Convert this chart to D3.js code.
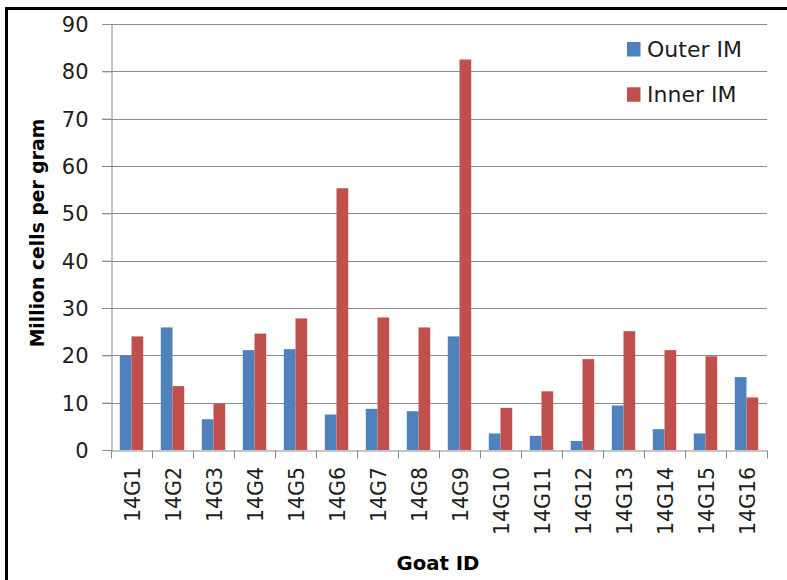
<!DOCTYPE html>
<html>
<head>
<meta charset="utf-8">
<script src="https://cdn.jsdelivr.net/npm/d3@7"></script>
<style>
  html, body { margin: 0; padding: 0; background: #fff; }
  svg { display: block; }
</style>
</head>
<body>
<svg id="chart" width="787" height="580"></svg>
<script>
const categories = ["14G1","14G2","14G3","14G4","14G5","14G6","14G7","14G8","14G9","14G10","14G11","14G12","14G13","14G14","14G15","14G16"];
const seriesNames = ["Outer IM","Inner IM"];
const outerIM = [20.0, 25.9, 6.5, 21.1, 21.3, 7.5, 8.7, 8.2, 24.0, 3.5, 3.0, 1.9, 9.4, 4.4, 3.5, 15.4];
const innerIM = [24.0, 13.5, 9.8, 24.6, 27.8, 55.3, 28.0, 25.9, 82.5, 8.9, 12.4, 19.2, 25.1, 21.1, 19.8, 11.1];
const yTicks = [0,10,20,30,40,50,60,70,80,90];
const colors = ["#4F81BD", "#C0504D"];

(function () {
const svg = d3.select("#chart");
const pLeft = 111, pRight = 767, pTop = 24, pBottom = 450;
const font = "'DejaVu Sans', sans-serif";
const textColor = "#1e1e1e";
const gridColor = "#8c8c8c";

// frame
svg.append("rect").attr("x", 6.5).attr("y", 8.5).attr("width", 820).attr("height", 620)
  .attr("fill", "none").attr("stroke", "#000").attr("stroke-width", 3);

const y = d3.scaleLinear().domain([0, 90]).range([pBottom, pTop]);
const x0 = d3.scaleBand().domain(categories).range([pLeft, pRight]).padding(0);
const groupW = x0.bandwidth() * 2 / 3.5;
const x1 = d3.scaleBand().domain(seriesNames).range([0, groupW]).padding(0);
const offset = (x0.bandwidth() - groupW) / 2;

// gridlines
svg.append("g").selectAll("line").data(yTicks.filter(d => d > 0)).join("line")
  .attr("x1", pLeft - 9).attr("x2", pRight)
  .attr("y1", d => Math.round(y(d)) + 0.5).attr("y2", d => Math.round(y(d)) + 0.5)
  .attr("stroke", gridColor).attr("stroke-width", 1);

// y axis
const yAxis = svg.append("g").attr("transform", `translate(${pLeft + 0.5},0)`)
  .call(d3.axisLeft(y).tickValues(yTicks).tickSize(9).tickPadding(14).tickFormat(d3.format("d")));
yAxis.select(".domain").attr("stroke", gridColor);
yAxis.selectAll(".tick line").attr("stroke", gridColor);
yAxis.selectAll(".tick text").attr("font-family", font).attr("font-size", 21).attr("fill", textColor).attr("dy", "0.36em");

// bars
const data = categories.map((c, i) => ({ cat: c, vals: [outerIM[i], innerIM[i]] }));
const groups = svg.append("g").selectAll("g").data(data).join("g")
  .attr("transform", d => `translate(${x0(d.cat) + offset},0)`);
groups.selectAll("rect").data(d => d.vals.map((v, j) => ({ s: seriesNames[j], v, j }))).join("rect")
  .attr("x", d => x1(d.s))
  .attr("y", d => y(d.v))
  .attr("width", x1.bandwidth())
  .attr("height", d => y(0) - y(d.v))
  .attr("fill", d => colors[d.j]);

// x axis
const xAxis = svg.append("g").attr("transform", `translate(0,${pBottom + 0.5})`)
  .call(d3.axisBottom(x0).tickSize(0).tickFormat(""));
xAxis.select(".domain").attr("stroke", gridColor);
xAxis.selectAll(".tick").remove();
const bounds = categories.map(c => x0(c)).concat([pRight]);
xAxis.selectAll("line.cat").data(bounds).join("line").attr("class", "cat")
  .attr("x1", d => Math.round(d) + 0.5).attr("x2", d => Math.round(d) + 0.5)
  .attr("y1", 0).attr("y2", 8).attr("stroke", gridColor);
svg.append("g").selectAll("text").data(categories).join("text")
  .attr("transform", d => `translate(${x0(d) + x0.bandwidth() / 2},467) rotate(-90)`)
  .attr("text-anchor", "end").attr("dy", "0.42em")
  .attr("font-family", font).attr("font-size", 20.5).attr("fill", textColor)
  .text(d => d);

// axis titles
svg.append("text").attr("transform", "translate(44,233) rotate(-90)")
  .attr("text-anchor", "middle").attr("font-family", font).attr("font-weight", "bold")
  .attr("font-size", 18.8).attr("fill", "#000").text("Million cells per gram");
svg.append("text").attr("x", 438).attr("y", 570)
  .attr("text-anchor", "middle").attr("font-family", font).attr("font-weight", "bold")
  .attr("font-size", 19.7).attr("fill", "#000").text("Goat ID");

// legend
const legend = svg.append("g");
seriesNames.forEach((s, i) => {
  const ly = 42 + i * 45.3;
  legend.append("rect").attr("x", 627).attr("y", ly).attr("width", 13.5).attr("height", 14.5).attr("fill", colors[i]);
  legend.append("text").attr("x", 647).attr("y", ly + 15).attr("font-family", font)
    .attr("font-size", 22).attr("fill", textColor).text(s);
});
})();
</script>
</body>
</html>
